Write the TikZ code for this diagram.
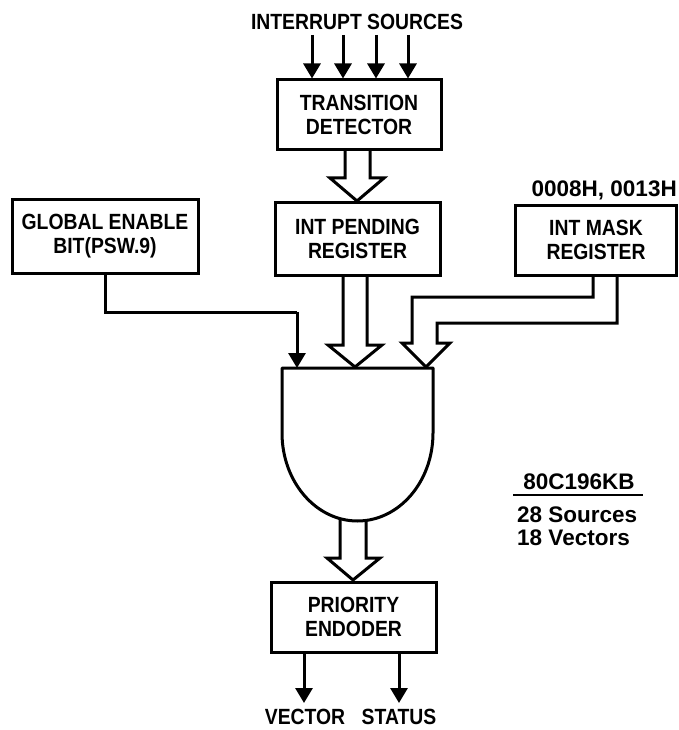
\documentclass[tikz,border=0pt]{standalone}
\usepackage{fontspec}
\setmainfont[FakeStretch=0.88]{Liberation Sans}
\newfontfamily\widefont{Liberation Sans}
\usetikzlibrary{arrows.meta,calc}
\begin{document}
\begin{tikzpicture}[x=1pt,y=-1pt,
  lbl/.style={font=\fontsize{22}{24}\selectfont\bfseries, inner sep=0pt},
  wlbl/.style={font=\widefont\fontsize{22.5}{24}\selectfont\bfseries, inner sep=0pt},
  blk/.style={draw, line width=3pt, fill=white, align=center,
     font=\fontsize{22}{24}\selectfont\bfseries, inner sep=0pt},
  wire/.style={line width=3pt},
  sarrow/.style={line width=3pt, -{Triangle[width=17pt,length=15pt]}},
  hollow/.style={line width=3pt, fill=white, line join=miter}
]
\useasboundingbox (0,0) rectangle (679,730);

% coordinates
\coordinate (src1) at (312,35);
\coordinate (src2) at (343,35);
\coordinate (src3) at (376,35);
\coordinate (src4) at (408,35);
\coordinate (gin1) at (297,368);
\coordinate (gbend) at (297,312);
\coordinate (gtl) at (282,368);
\coordinate (gtr) at (433,368);
\coordinate (vecend) at (304,703);
\coordinate (statend) at (399,703);

% hollow arrows (drawn first, boxes on top)
\draw[hollow] (345,140) -- (345,178) -- (330,178) -- (357,201) -- (384,178) -- (370,178) -- (370,140);
\draw[hollow] (343,265) -- (343,345) -- (328,345) -- (355,367) -- (382,345) -- (367,345) -- (367,265);
\draw[hollow] (593,265) -- (593,297) -- (412,297) -- (412,343) -- (402,343) -- (426,367) -- (450,343) -- (437,343) -- (437,323) -- (617,323) -- (617,265);
\draw[hollow] (340,500) -- (340,558) -- (327,558) -- (353,580) -- (380,558) -- (366,558) -- (366,500);

% boxes
\node[blk, minimum width=164pt, minimum height=70pt] (td) at (359,115) {TRANSITION\\DETECTOR};
\node[blk, minimum width=165pt, minimum height=73pt] (ip) at (357.5,238.5) {INT PENDING\\REGISTER};
\node[blk, minimum width=186pt, minimum height=74pt] (ge) at (105,236) {GLOBAL ENABLE\\BIT(PSW.9)};
\node[blk, minimum width=161pt, minimum height=70pt] (im) at (596,240) {INT MASK\\REGISTER};
\node[blk, minimum width=165pt, minimum height=70pt] (pe) at (353.5,617) {PRIORITY\\ENDODER};

% gate
\draw[line width=3pt, fill=white, line join=round] (gtl) -- ++(0,65) arc[start angle=180, end angle=360, x radius=75.5pt, y radius=88pt] -- (gtr) -- cycle;

% labels
\node[lbl] (srclbl) at (357,22) {INTERRUPT SOURCES};
\node[wlbl, anchor=east] (masklbl) at (677,190) {0008H, 0013H};
\node[lbl] (veclbl) at (305,717) {VECTOR};
\node[lbl] (statlbl) at (399,717) {STATUS};
\node[wlbl] (chip) at (579,482) {80C196KB};
\node[wlbl, anchor=west] (src28) at (517,515) {28 Sources};
\node[wlbl, anchor=west] (vec18) at (517,538) {18 Vectors};
\draw[line width=2pt] (513,495) -- (643,495);

% input arrows
\foreach \s in {src1,src2,src3,src4}
  \draw[sarrow] (\s) -- (\s |- td.north);

% global enable
\draw[wire] (ge.south) |- (gbend);
\draw[sarrow] (gbend) -- (gin1);

% outputs
\draw[sarrow] (vecend |- pe.south) -- (vecend);
\draw[sarrow] (statend |- pe.south) -- (statend);
\end{tikzpicture}
\end{document}
